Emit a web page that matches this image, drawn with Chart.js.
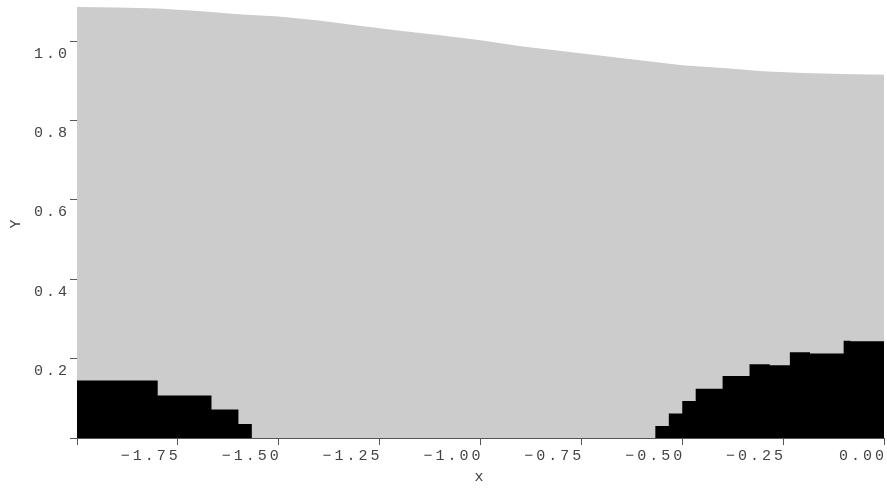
<!DOCTYPE html>
<html>
<head>
<meta charset="utf-8">
<script src="https://cdn.jsdelivr.net/npm/chart.js@4/dist/chart.umd.min.js"></script>
<style>
  html, body { margin: 0; padding: 0; background: #fff; }
  #wrap { width: 887px; height: 489px; }
</style>
</head>
<body>
<div id="wrap"><canvas id="grafico"></canvas></div>
<script>
// upper curve (gray area), read every 0.1 on x
const curvaX = [-2.0, -1.9, -1.8, -1.7, -1.6, -1.5, -1.4, -1.3, -1.2, -1.1, -1.0,
                -0.9, -0.8, -0.7, -0.6, -0.5, -0.4, -0.3, -0.2, -0.1, 0.0];
const curvaY = [1.086, 1.085, 1.082, 1.076, 1.068, 1.062, 1.052, 1.039, 1.026, 1.015, 1.002,
                0.987, 0.975, 0.963, 0.951, 0.939, 0.932, 0.924, 0.920, 0.917, 0.915];

// black step region (value holds from each x to the next)
const escalonX = [-2.0, -1.8, -1.6667, -1.6, -1.5667, -0.5667, -0.5333, -0.5, -0.4667,
                  -0.4, -0.3333, -0.2833, -0.2333, -0.1833, -0.1, -0.0833, 0.0];
const escalonY = [0.145, 0.107, 0.072, 0.035, 0, 0.030, 0.062, 0.093, 0.124,
                  0.156, 0.186, 0.183, 0.216, 0.213, 0.245, 0.244, 0.244];

const ticksX = [-2.0, -1.75, -1.5, -1.25, -1.0, -0.75, -0.5, -0.25, 0.0];
const ticksY = [0, 0.2, 0.4, 0.6, 0.8, 1.0];

const fuente = { family: "'Liberation Mono', 'DejaVu Sans Mono', monospace", size: 15 };
const colorTexto = '#444';

// the reference spreads its monospace labels out
const espaciado = {
  id: 'espaciado',
  beforeLayout(chart) { chart.ctx.letterSpacing = '3px'; },
  beforeDraw(chart) { chart.ctx.letterSpacing = '3px'; }
};

function puntos(xs, ys) {
  return xs.map((x, i) => ({ x, y: ys[i] }));
}

new Chart(document.getElementById('grafico'), {
  type: 'line',
  data: {
    datasets: [
      {
        label: 'inferior',
        data: puntos(escalonX, escalonY),
        stepped: 'before',
        fill: 'origin',
        backgroundColor: '#000000',
        borderColor: '#000000',
        borderWidth: 0,
        pointRadius: 0,
        order: 1
      },
      {
        label: 'superior',
        data: puntos(curvaX, curvaY),
        fill: 'origin',
        tension: 0,
        backgroundColor: '#cccccc',
        borderColor: '#cccccc',
        borderWidth: 0,
        pointRadius: 0,
        order: 2
      }
    ]
  },
  options: {
    responsive: true,
    maintainAspectRatio: false,
    animation: false,
    layout: { padding: { top: 7, right: 3, left: 0, bottom: 0 } },
    plugins: { legend: { display: false }, tooltip: { enabled: false } },
    scales: {
      x: {
        type: 'linear',
        min: -2,
        max: 0,
        afterBuildTicks: s => { s.ticks = ticksX.map(v => ({ value: v })); },
        afterFit: s => { s.height = 51; },
        border: { display: true, color: '#555', width: 1 },
        grid: { drawOnChartArea: false, drawTicks: true, tickLength: 7, color: '#555' },
        ticks: {
          align: 'end',
          labelOffset: 3,
          padding: 2,
          maxRotation: 0,
          autoSkip: false,
          color: colorTexto,
          font: fuente,
          callback: v => (v === -2 ? '' : v.toFixed(2).replace('-', '\u2212'))
        },
        title: { display: true, text: 'x', color: colorTexto, font: fuente, padding: { top: 0, bottom: 3 } }
      },
      y: {
        min: 0,
        max: 1.086,
        afterBuildTicks: s => { s.ticks = ticksY.map(v => ({ value: v })); },
        afterFit: s => { s.width = 77; },
        border: { display: true, color: '#555', width: 1 },
        grid: { drawOnChartArea: false, drawTicks: true, tickLength: 7, color: '#555' },
        ticks: {
          align: 'start',
          labelOffset: 5,
          padding: 0,
          autoSkip: false,
          color: colorTexto,
          font: fuente,
          callback: v => (v === 0 ? '' : v.toFixed(1))
        },
        title: { display: true, text: 'Y', color: colorTexto, font: fuente, padding: { top: 7, bottom: 0 } }
      }
    }
  },
  plugins: [espaciado]
});
</script>
</body>
</html>
